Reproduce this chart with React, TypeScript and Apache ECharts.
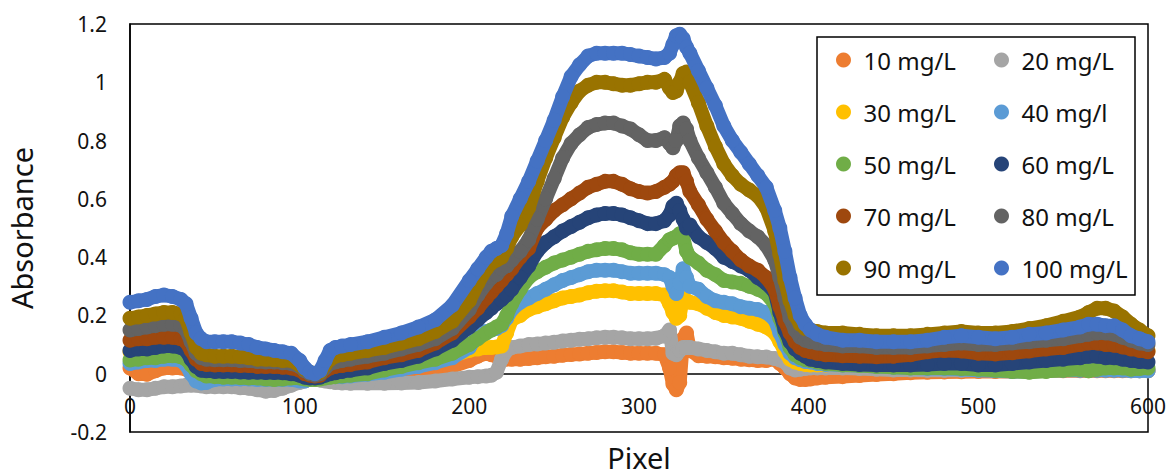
import React, { useEffect, useRef } from "react";
import * as echarts from "echarts";

// Pixel positions (x values) shared by all series
const pixels = [
  0, 5, 10, 15, 20, 25, 30,
  33, 36, 39, 42, 45,
  50, 55, 60, 65, 70, 75, 80, 85, 90, 95, 100,
  103, 106, 109, 112, 115, 118, 121,
  125, 130, 140, 150, 160, 170, 180, 190, 200,
  205, 210, 213, 216, 219, 222, 225,
  230, 235, 240, 245, 250, 255, 260, 265, 270, 275, 280, 285, 290, 295, 300, 305, 310, 315,
  318, 320, 322, 324, 326, 328, 330,
  335, 340, 345, 350, 355, 360, 365, 370, 375, 380,
  383, 386, 389, 392, 395, 398, 401,
  405, 410,
  420, 430, 440, 450, 460, 470, 480, 490, 500, 510, 520, 530, 540, 550, 560,
  565, 570, 575, 580, 585, 590, 595, 600,
];

const abs10 = [
  0.02, 0.0, -0.002, 0.01, 0.02, 0.02, 0.02,
  0.015, 0.005, -0.005, -0.01, -0.01,
  -0.01, -0.01, -0.01, -0.012, -0.012, -0.012, -0.012, -0.012, -0.012, -0.012, -0.015,
  -0.015, -0.018, -0.018, -0.015, -0.012, -0.01, -0.01,
  -0.008, -0.006, -0.004, -0.002, 0.0, 0.005, 0.013, 0.025, 0.045,
  0.06, 0.07, 0.065, 0.06, 0.055, 0.05, 0.05,
  0.05, 0.052, 0.055, 0.058, 0.06, 0.063, 0.066, 0.068, 0.07, 0.073, 0.075, 0.075, 0.073, 0.07, 0.07, 0.07, 0.07, 0.065,
  0.02, -0.035, -0.055, -0.03, 0.12, 0.14, 0.08,
  0.062, 0.06, 0.058, 0.055, 0.053, 0.05, 0.048, 0.045, 0.045, 0.05,
  0.035, 0.02, 0.0, -0.015, -0.02, -0.02, -0.018,
  -0.015, -0.012,
  -0.01, -0.006, -0.003, 0.0, 0.003, 0.005, 0.006, 0.007, 0.008, 0.008, 0.008, 0.009, 0.01, 0.01, 0.01,
  0.01, 0.01, 0.01, 0.01, 0.01, 0.01, 0.01, 0.01,
];

const abs20 = [
  -0.05, -0.055, -0.055, -0.05, -0.045, -0.045, -0.042,
  -0.04, -0.04, -0.04, -0.042, -0.045,
  -0.045, -0.045, -0.045, -0.048, -0.05, -0.055, -0.06, -0.058, -0.05, -0.04, -0.03,
  -0.025, -0.02, -0.02, -0.022, -0.025, -0.028, -0.03,
  -0.032, -0.033, -0.033, -0.033, -0.032, -0.03, -0.025, -0.018, -0.012,
  -0.01, -0.008, -0.005, 0.005, 0.05, 0.08, 0.09,
  0.095, 0.1, 0.102, 0.105, 0.108, 0.112, 0.115, 0.118, 0.12, 0.123, 0.125, 0.125, 0.123, 0.12, 0.12, 0.12, 0.122, 0.13,
  0.15, 0.07, 0.065, 0.08, 0.09, 0.09, 0.09,
  0.085, 0.08, 0.075, 0.07, 0.07, 0.065, 0.06, 0.058, 0.057, 0.052,
  0.047, 0.04, 0.02, 0.013, 0.015, 0.018, 0.02,
  0.02, 0.02,
  0.02, 0.018, 0.015, 0.013, 0.013, 0.012, 0.012, 0.012, 0.013, 0.014, 0.015, 0.015, 0.016, 0.018, 0.02,
  0.02, 0.02, 0.02, 0.018, 0.015, 0.012, 0.01, 0.01,
];

const abs30 = [
  0.075, 0.078, 0.08, 0.08, 0.082, 0.082, 0.08,
  0.07, 0.04, 0.015, 0.002, 0.0,
  0.0, -0.002, -0.002, -0.003, -0.003, -0.005, -0.005, -0.005, -0.005, -0.005, -0.01,
  -0.015, -0.018, -0.018, -0.015, -0.012, -0.008, -0.005,
  -0.003, 0.0, 0.005, 0.012, 0.02, 0.03, 0.045, 0.06, 0.08,
  0.085, 0.09, 0.09, 0.092, 0.095, 0.14, 0.185,
  0.2, 0.22, 0.23, 0.24, 0.25, 0.26, 0.265, 0.27, 0.278, 0.283, 0.285, 0.285, 0.28, 0.275, 0.275, 0.275, 0.275, 0.27,
  0.24, 0.21, 0.19, 0.2, 0.265, 0.25, 0.245,
  0.24, 0.225, 0.21, 0.2, 0.195, 0.19, 0.18, 0.17, 0.16, 0.14,
  0.11, 0.075, 0.05, 0.04, 0.035, 0.032, 0.03,
  0.03, 0.03,
  0.035, 0.04, 0.045, 0.05, 0.055, 0.06, 0.065, 0.07, 0.072, 0.075, 0.08, 0.085, 0.09, 0.1, 0.11,
  0.115, 0.11, 0.105, 0.1, 0.095, 0.09, 0.085, 0.08,
];

const abs40 = [
  0.035, 0.04, 0.045, 0.045, 0.05, 0.05, 0.045,
  0.03, 0.0, -0.025, -0.032, -0.03,
  -0.02, -0.018, -0.018, -0.018, -0.018, -0.02, -0.02, -0.02, -0.02, -0.02, -0.025,
  -0.025, -0.02, -0.015, -0.012, -0.01, -0.01, -0.01,
  -0.01, -0.008, -0.002, 0.005, 0.015, 0.025, 0.038, 0.055, 0.09,
  0.13, 0.145, 0.15, 0.155, 0.165, 0.19, 0.22,
  0.245, 0.26, 0.275, 0.29, 0.305, 0.32, 0.33, 0.34, 0.35, 0.355, 0.355, 0.355, 0.35, 0.345, 0.345, 0.345, 0.345, 0.34,
  0.33, 0.3, 0.275, 0.31, 0.36, 0.33, 0.3,
  0.29, 0.265, 0.25, 0.245, 0.24, 0.23, 0.225, 0.22, 0.21, 0.185,
  0.14, 0.1, 0.07, 0.055, 0.048, 0.042, 0.04,
  0.035, 0.032,
  0.03, 0.028, 0.025, 0.022, 0.02, 0.018, 0.018, 0.015, 0.012, 0.01, 0.008, 0.008, 0.01, 0.012, 0.012,
  0.012, 0.012, 0.012, 0.012, 0.012, 0.01, 0.01, 0.01,
];

const abs50 = [
  0.047, 0.05, 0.055, 0.055, 0.06, 0.062, 0.058,
  0.05, 0.03, 0.01, 0.0, -0.008,
  -0.01, -0.012, -0.012, -0.013, -0.015, -0.015, -0.018, -0.02, -0.018, -0.015, -0.015,
  -0.018, -0.02, -0.02, -0.018, -0.015, -0.012, -0.01,
  -0.008, -0.005, 0.0, 0.013, 0.025, 0.038, 0.05, 0.07, 0.1,
  0.12, 0.14, 0.15, 0.16, 0.17, 0.2, 0.24,
  0.29, 0.33, 0.35, 0.365, 0.38, 0.39, 0.4, 0.41, 0.42, 0.425, 0.43, 0.43, 0.425, 0.415, 0.41, 0.41, 0.41, 0.44,
  0.46, 0.465, 0.47, 0.48, 0.47, 0.42, 0.4,
  0.38, 0.355, 0.34, 0.32, 0.315, 0.31, 0.3, 0.29, 0.275, 0.24,
  0.19, 0.14, 0.09, 0.065, 0.055, 0.048, 0.045,
  0.04, 0.035,
  0.03, 0.028, 0.025, 0.022, 0.02, 0.02, 0.02, 0.018, 0.015, 0.012, 0.008, 0.005, 0.008, 0.012, 0.015,
  0.01, 0.015, 0.02, 0.02, 0.02, 0.015, 0.018, 0.02,
];

const abs60 = [
  0.08, 0.085, 0.085, 0.09, 0.095, 0.095, 0.09,
  0.08, 0.05, 0.025, 0.012, 0.01,
  0.008, 0.008, 0.008, 0.006, 0.005, 0.005, 0.004, 0.004, 0.003, 0.0, -0.005,
  -0.012, -0.015, -0.015, -0.012, -0.005, 0.0, 0.003,
  0.008, 0.012, 0.02, 0.035, 0.045, 0.06, 0.085, 0.115, 0.16,
  0.185, 0.21, 0.225, 0.24, 0.255, 0.27, 0.29,
  0.33, 0.37, 0.42, 0.45, 0.47, 0.49, 0.505, 0.52, 0.535, 0.545, 0.55, 0.55, 0.545, 0.535, 0.525, 0.515, 0.515, 0.525,
  0.545, 0.575, 0.585, 0.56, 0.53, 0.5, 0.51,
  0.47, 0.45, 0.43, 0.4, 0.385, 0.37, 0.355, 0.33, 0.31, 0.28,
  0.21, 0.15, 0.11, 0.085, 0.07, 0.06, 0.05,
  0.045, 0.04,
  0.035, 0.032, 0.03, 0.03, 0.03, 0.032, 0.035, 0.035, 0.03, 0.03, 0.035, 0.04, 0.045, 0.05, 0.055,
  0.06, 0.06, 0.055, 0.055, 0.05, 0.045, 0.042, 0.04,
];

const abs70 = [
  0.115, 0.12, 0.12, 0.125, 0.125, 0.125, 0.12,
  0.11, 0.08, 0.05, 0.035, 0.032,
  0.03, 0.03, 0.03, 0.028, 0.028, 0.025, 0.025, 0.025, 0.022, 0.02, 0.012,
  0.0, -0.005, -0.008, -0.005, 0.01, 0.02, 0.025,
  0.028, 0.032, 0.04, 0.055, 0.065, 0.08, 0.105, 0.14, 0.195,
  0.225, 0.26, 0.28, 0.3, 0.32, 0.34, 0.36,
  0.4, 0.43, 0.5, 0.53, 0.56, 0.58, 0.6, 0.62, 0.64, 0.65, 0.66, 0.66, 0.65, 0.635, 0.625, 0.62, 0.625, 0.64,
  0.65, 0.66, 0.68, 0.69, 0.69, 0.66, 0.625,
  0.58, 0.53, 0.49, 0.45, 0.42, 0.39, 0.37, 0.355, 0.33, 0.29,
  0.23, 0.18, 0.14, 0.11, 0.09, 0.08, 0.075,
  0.07, 0.065,
  0.062, 0.06, 0.058, 0.06, 0.065, 0.075, 0.08, 0.078, 0.07, 0.068, 0.072, 0.078, 0.085, 0.09, 0.1,
  0.105, 0.105, 0.1, 0.098, 0.092, 0.085, 0.08, 0.075,
];

const abs80 = [
  0.15, 0.155, 0.16, 0.165, 0.17, 0.17, 0.165,
  0.15, 0.11, 0.07, 0.055, 0.05,
  0.048, 0.048, 0.048, 0.045, 0.045, 0.042, 0.04, 0.04, 0.038, 0.035, 0.025,
  0.01, 0.0, -0.005, 0.0, 0.02, 0.035, 0.04,
  0.045, 0.05, 0.06, 0.07, 0.085, 0.1, 0.12, 0.155, 0.22,
  0.27, 0.31, 0.33, 0.34, 0.36, 0.37, 0.39,
  0.42, 0.46, 0.53, 0.6, 0.67, 0.74, 0.79, 0.82, 0.845, 0.855, 0.86, 0.86, 0.85, 0.84, 0.82, 0.8, 0.8, 0.81,
  0.79, 0.775, 0.8, 0.85, 0.86, 0.84, 0.8,
  0.74, 0.69, 0.64, 0.585, 0.55, 0.515, 0.49, 0.47, 0.44, 0.39,
  0.33, 0.26, 0.19, 0.15, 0.125, 0.115, 0.11,
  0.105, 0.1,
  0.095, 0.095, 0.09, 0.09, 0.09, 0.095, 0.1, 0.105, 0.1, 0.1, 0.105, 0.11, 0.115, 0.12, 0.13,
  0.135, 0.14, 0.14, 0.135, 0.125, 0.115, 0.105, 0.1,
];

const abs90 = [
  0.19, 0.195, 0.2, 0.205, 0.21, 0.21, 0.205,
  0.19, 0.14, 0.09, 0.07, 0.065,
  0.06, 0.06, 0.06, 0.058, 0.055, 0.05, 0.05, 0.048, 0.045, 0.045, 0.03,
  0.015, 0.005, 0.0, 0.005, 0.03, 0.05, 0.06,
  0.065, 0.07, 0.08, 0.09, 0.105, 0.12, 0.145, 0.18, 0.25,
  0.31, 0.36, 0.38, 0.39, 0.4, 0.43, 0.47,
  0.51, 0.57, 0.66, 0.74, 0.81, 0.88, 0.93, 0.97, 0.99, 1.0, 1.0, 0.995, 0.99, 0.99, 0.995, 1.0, 1.0, 1.01,
  0.98, 0.965, 0.97, 1.0, 1.03, 1.035, 1.0,
  0.93, 0.85, 0.78, 0.72, 0.68, 0.65, 0.63, 0.61, 0.57, 0.49,
  0.41, 0.32, 0.25, 0.2, 0.17, 0.155, 0.15,
  0.145, 0.14,
  0.14, 0.135, 0.13, 0.13, 0.13, 0.135, 0.14, 0.145, 0.14, 0.14, 0.145, 0.155, 0.165, 0.18, 0.195,
  0.21, 0.225, 0.225, 0.215, 0.195, 0.17, 0.15, 0.13,
];

const abs100 = [
  0.245, 0.25, 0.255, 0.265, 0.27, 0.265, 0.255,
  0.24, 0.19, 0.14, 0.12, 0.11,
  0.11, 0.11, 0.11, 0.105, 0.1, 0.09, 0.085, 0.08, 0.075, 0.07, 0.045,
  0.02, 0.005, 0.0, 0.01, 0.045, 0.08, 0.09,
  0.095, 0.1, 0.11, 0.125, 0.14, 0.16, 0.185, 0.235, 0.32,
  0.36, 0.4, 0.42, 0.43, 0.44, 0.48, 0.54,
  0.6, 0.66, 0.73, 0.8, 0.87, 0.95, 1.02, 1.06, 1.09, 1.1, 1.1, 1.1, 1.1, 1.095, 1.09, 1.085, 1.08, 1.085,
  1.1, 1.13, 1.16, 1.165, 1.15, 1.12, 1.1,
  1.04, 0.98, 0.92, 0.85, 0.8, 0.76, 0.72, 0.68, 0.64, 0.56,
  0.5, 0.42, 0.33, 0.26, 0.2, 0.17, 0.15,
  0.135, 0.125,
  0.115, 0.115, 0.11, 0.11, 0.11, 0.115, 0.125, 0.13, 0.125, 0.12, 0.125, 0.135, 0.14, 0.15, 0.16,
  0.17, 0.17, 0.165, 0.165, 0.15, 0.13, 0.12, 0.11,
];

const seriesNames = [
  "10 mg/L", "20 mg/L", "30 mg/L", "40 mg/l", "50 mg/L",
  "60 mg/L", "70 mg/L", "80 mg/L", "90 mg/L", "100 mg/L",
];
const seriesValues = [abs10, abs20, abs30, abs40, abs50, abs60, abs70, abs80, abs90, abs100];
const seriesColors = [
  "#ED7D31", "#A5A5A5", "#FFC000", "#5B9BD5", "#70AD47",
  "#264478", "#9E480E", "#636363", "#997300", "#4472C4",
];

const xMin = 0;
const xMax = 600;
const xStep = 100;
const yMin = -0.2;
const yMax = 1.2;
const yStep = 0.2;

const FONT = "'Noto Sans', 'Open Sans', sans-serif";

export default function App() {
  const ref = useRef<HTMLDivElement>(null);

  useEffect(() => {
    if (!ref.current) return;
    const chart = echarts.init(ref.current, undefined, { renderer: "svg" });

    const series = seriesNames.map((name, si) => ({
      name,
      type: "line",
      z: 2 + si,
      clip: false,
      silent: true,
      showSymbol: true,
      symbol: "circle",
      symbolSize: 15,
      color: seriesColors[si],
      itemStyle: { color: seriesColors[si] },
      lineStyle: { color: seriesColors[si], width: 14, cap: "round", join: "round" },
      emphasis: { disabled: true },
      data: pixels.map((x, i) => [x, seriesValues[si][i]]),
    }));

    const legendText = {
      fontFamily: FONT,
      fontSize: 24,
      lineHeight: 26,
      color: "#111",
    };

    chart.setOption({
      animation: false,
      textStyle: { fontFamily: FONT },
      grid: {
        left: 130,
        top: 24,
        width: 1018,
        height: 408,
        outerBoundsMode: "none",
        containLabel: false,
        show: true,
        borderColor: "#000",
        borderWidth: 1.5,
        backgroundColor: "transparent",
      },
      xAxis: {
        type: "value",
        min: xMin,
        max: xMax,
        interval: xStep,
        name: "Pixel",
        nameLocation: "middle",
        nameGap: 11,
        nameTextStyle: { fontFamily: FONT, fontSize: 29, color: "#111" },
        axisLine: { show: true, onZero: true, lineStyle: { color: "#000", width: 1.5 } },
        axisTick: { show: false },
        splitLine: { show: false },
        axisLabel: { fontFamily: FONT, fontSize: 21, color: "#111", margin: -37 },
      },
      yAxis: {
        type: "value",
        min: yMin,
        max: yMax,
        interval: yStep,
        name: "Absorbance",
        nameLocation: "middle",
        nameGap: 94,
        nameTextStyle: { fontFamily: FONT, fontSize: 29, color: "#111" },
        axisLine: { show: true, onZero: false, lineStyle: { color: "#000", width: 1.5 } },
        axisTick: { show: false },
        splitLine: { show: false },
        axisLabel: {
          fontFamily: FONT,
          fontSize: 21,
          color: "#111",
          margin: 23,
          formatter: (v: number) => String(Math.round(v * 10) / 10),
        },
      },
      graphic: [
        {
          type: "rect",
          z: 40,
          shape: { x: 817, y: 37, width: 318, height: 258 },
          style: { fill: "#fff", stroke: "#000", lineWidth: 1.5 },
        },
      ],
      legend: [
        {
          z: 50,
          orient: "vertical",
          left: 836,
          top: 47,
          padding: 0,
          itemGap: 26,
          itemWidth: 30,
          itemHeight: 15,
          icon: "circle",
          selectedMode: false,
          textStyle: legendText,
          data: [seriesNames[0], seriesNames[2], seriesNames[4], seriesNames[6], seriesNames[8]],
        },
        {
          z: 50,
          orient: "vertical",
          left: 994,
          top: 47,
          padding: 0,
          itemGap: 26,
          itemWidth: 30,
          itemHeight: 15,
          icon: "circle",
          selectedMode: false,
          textStyle: legendText,
          data: [seriesNames[1], seriesNames[3], seriesNames[5], seriesNames[7], seriesNames[9]],
        },
      ],
      series,
    });

    return () => chart.dispose();
  }, []);

  return (
    <div
      ref={ref}
      style={{ position: "absolute", left: 0, top: 0, width: 1166, height: 470, background: "#fff" }}
    />
  );
}
